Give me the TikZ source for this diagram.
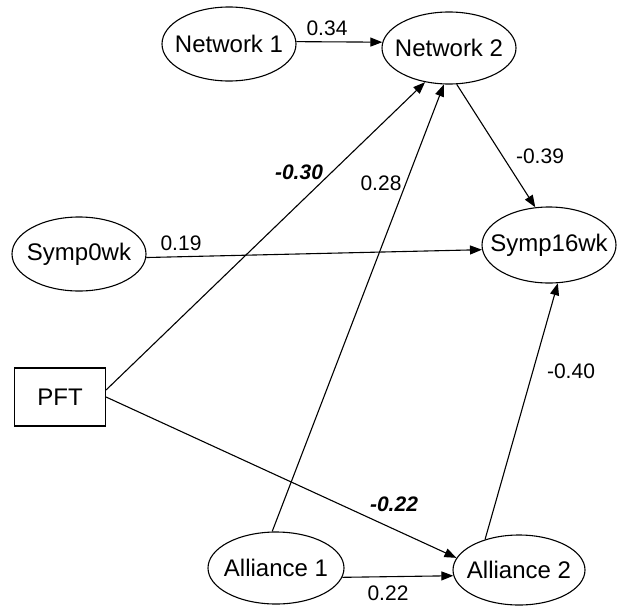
\documentclass[tikz,border=0pt]{standalone}
\usepackage{fontspec}
\setmainfont{Liberation Sans}
\usetikzlibrary{shapes.geometric,arrows.meta}
\tikzset{
  var/.style={draw, ellipse, line width=1.1pt, inner sep=0pt, font=\fontsize{24}{27}\selectfont},
  obs/.style={draw, rectangle, line width=1.1pt, inner sep=0pt, font=\fontsize{24}{27}\selectfont},
  path/.style={line width=1.1pt, -{Triangle[length=12pt,width=9pt]}},
  coef/.style={font=\fontsize{21}{24}\selectfont, inner sep=0pt},
  sig/.style={coef, font=\fontsize{21}{24}\selectfont\bfseries\itshape}
}
\newcommand{\zb}[1]{\makebox[0pt]{#1}}
\begin{document}
\begin{tikzpicture}[x=1pt,y=-1pt]
\useasboundingbox (0,0) rectangle (617,605);
\node[var, minimum width=134pt, minimum height=74pt] (n1) at (229,44) {\zb{Network 1}};
\node[var, minimum width=134pt, minimum height=72pt] (n2) at (449,48) {\zb{Network 2}};
\node[var, minimum width=134pt, minimum height=74pt] (s0) at (79,254) {\zb{Symp0wk}};
\node[var, minimum width=134pt, minimum height=76pt] (s16) at (549,245) {\zb{Symp16wk}};
\node[obs, minimum width=91pt, minimum height=58pt] (pft) at (60,397) {PFT};
\node[var, minimum width=136pt, minimum height=72pt] (a1) at (276,568) {\zb{Alliance 1}};
\node[var, minimum width=132pt, minimum height=70pt] (a2) at (519,570) {\zb{Alliance 2}};

\draw[path] (n1.2) -- (n2.175);
\draw[path] (s0.357) -- (s16.184);
\draw[path] ([yshift=7pt]pft.east) -- (n2.235);
\draw[path] (a1.96) -- (n2.262);
\draw[path] (n2.282) -- (s16.110);
\draw[path] (a2.138) -- (s16.283);
\draw[path] (pft.east) -- (a2.169);
\draw[path] (a1.352) -- (a2.185);

\node[coef] (l1) at (327,28) {0.34};
\node[sig] (l2) at (299,172) {-0.30};
\node[coef] (l3) at (381,183) {0.28};
\node[coef] (l4) at (540,156) {-0.39};
\node[coef] (l5) at (181,243) {0.19};
\node[coef] (l6) at (571,371) {-0.40};
\node[sig] (l7) at (394,504) {-0.22};
\node[coef] (l8) at (388,593) {0.22};
\end{tikzpicture}
\end{document}
